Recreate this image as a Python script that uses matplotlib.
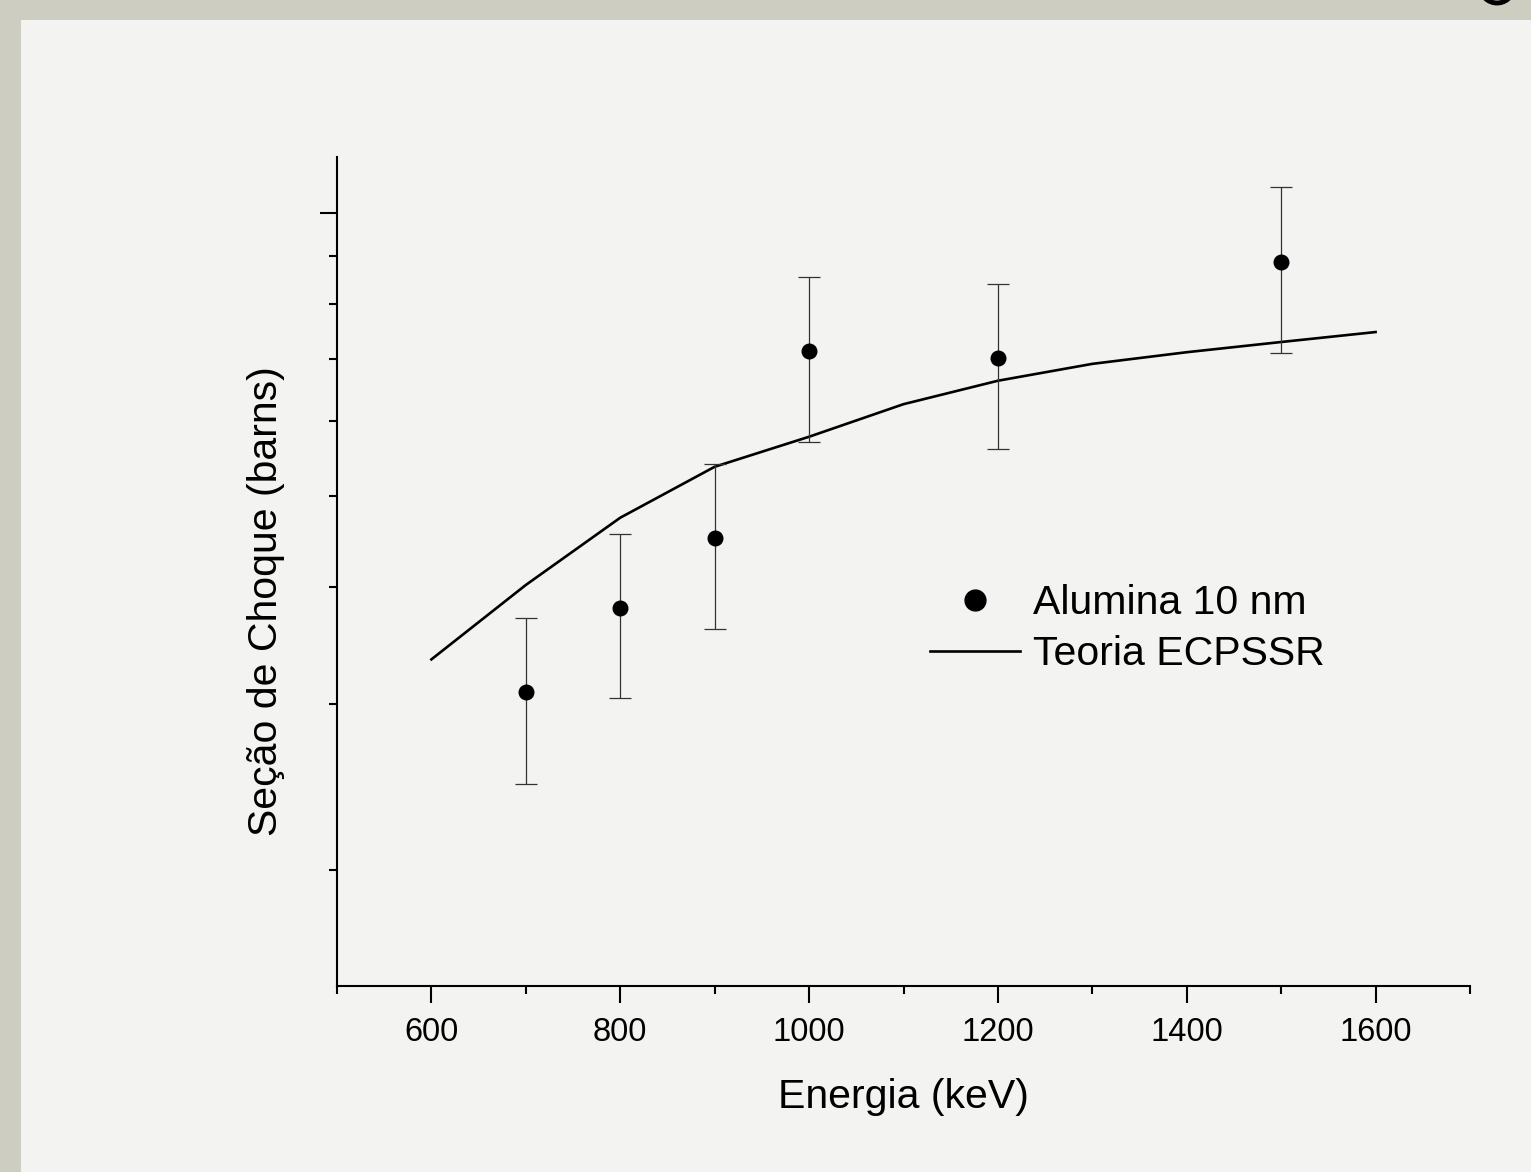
import numpy as np
import matplotlib
matplotlib.use('Agg')
import matplotlib.pyplot as plt
from matplotlib.lines import Line2D
from matplotlib.patches import Rectangle, Arc
from matplotlib.ticker import LogLocator, NullFormatter, MultipleLocator

plt.rcParams['font.family'] = ['Liberation Sans', 'DejaVu Sans']

# experimental points (Alumina 10 nm)
energy_exp = [700, 800, 900, 1000, 1200, 1500]
sigma_exp = [3.09, 3.80, 4.51, 7.13, 7.01, 8.87]
sigma_err = [0.62, 0.75, 0.90, 1.42, 1.40, 1.78]

# ECPSSR theory
energy_th = [600, 700, 800, 900, 1000, 1100, 1200, 1300, 1400, 1500, 1600]
sigma_th = [3.35, 4.02, 4.74, 5.37, 5.78, 6.26, 6.63, 6.91, 7.11, 7.29, 7.47]

W, H = 1531, 1172
fig = plt.figure(figsize=(W / 100, H / 100), dpi=100)
fig.patch.set_facecolor('#cdcdc1')
# light inner panel
fig.patches.append(Rectangle((21 / W, 0), 1 - 21 / W, 1 - 20 / H,
                             transform=fig.transFigure, facecolor='#f3f3f1',
                             edgecolor='none', zorder=-10))
# bit of a cropped glyph at the top right corner
fig.patches.append(Arc((1497 / W, 1 + 14 / H), 34 / W, 34 / H,
                       theta1=200, theta2=340, transform=fig.transFigure,
                       color='black', lw=3.5, zorder=-5))

ax = fig.add_axes([337 / W, 186 / H, (1470 - 337) / W, (986 - 157) / H])
ax.set_facecolor('none')

ax.plot(energy_th, sigma_th, color='black', lw=1.9, zorder=2)
ax.errorbar(energy_exp, sigma_exp, yerr=sigma_err, fmt='o', color='black',
            ms=10.5, ecolor='#333333', elinewidth=0.9, capsize=8,
            capthick=0.9, zorder=3)

ax.set_yscale('log')
ax.set_ylim(1.505, 11.47)
ax.set_xlim(500, 1700)
ax.yaxis.set_major_locator(LogLocator(base=10, subs=[1.0]))
ax.yaxis.set_minor_locator(LogLocator(base=10, subs=np.arange(2, 10)))
ax.yaxis.set_major_formatter(NullFormatter())
ax.yaxis.set_minor_formatter(NullFormatter())
ax.xaxis.set_major_locator(MultipleLocator(200))
ax.xaxis.set_minor_locator(MultipleLocator(100))

for s in ('top', 'right'):
    ax.spines[s].set_visible(False)
for s in ('left', 'bottom'):
    ax.spines[s].set_linewidth(1.5)

ax.tick_params(which='major', direction='out', length=12, width=1.5,
               labelsize=23.5, pad=10.5)
ax.tick_params(which='minor', direction='out', length=6, width=1.5)

ax.set_xlabel('Energia (keV)', fontsize=29.5)
ax.set_ylabel('Seção de Choque (barns)', fontsize=29.5)
ax.xaxis.set_label_coords(0.5, -0.111)
ax.yaxis.set_label_coords(-0.046, 0.464)

handles = [Line2D([], [], marker='o', ls='none', color='black', ms=15),
           Line2D([], [], color='black', lw=1.9)]
ax.legend(handles, ['Alumina 10 nm', 'Teoria ECPSSR'], loc='center left',
          bbox_to_anchor=(930 / W, 1 - 628.5 / H),
          bbox_transform=fig.transFigure, frameon=False, fontsize=29.5,
          handlelength=2.2, handletextpad=0.32, labelspacing=0.32,
          borderpad=0, borderaxespad=0)

fig.savefig('out.png', dpi=100, facecolor=fig.get_facecolor())
